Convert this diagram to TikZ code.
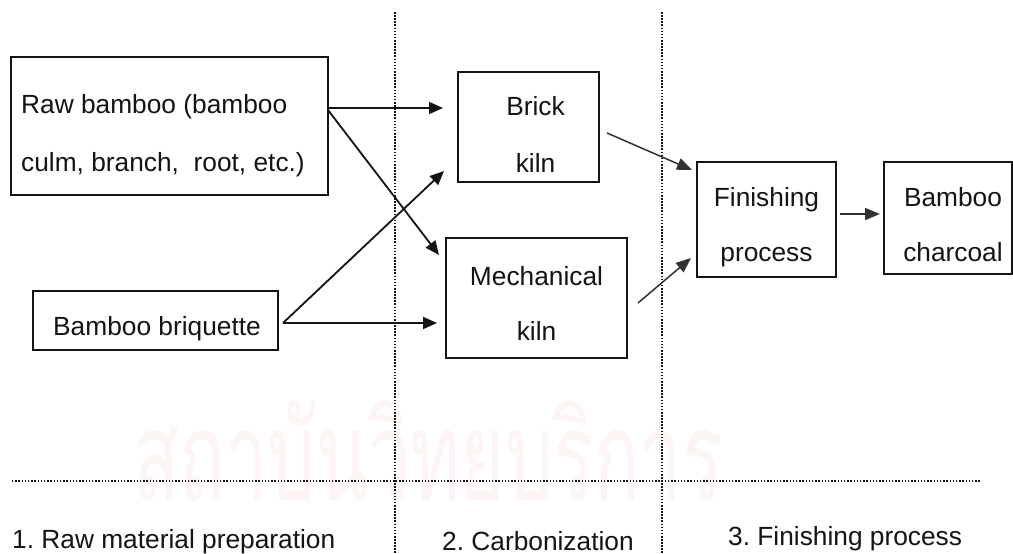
\documentclass[tikz,border=0pt]{standalone}
\usepackage{fontspec}
\setmainfont{Liberation Sans}
\newfontfamily\thaifont[Script=Thai]{Loma}
\usetikzlibrary{arrows.meta}
\definecolor{wm}{RGB}{253,244,244}
\definecolor{ink}{RGB}{20,20,20}
\definecolor{gr}{RGB}{50,50,50}
\frenchspacing
\begin{document}
\begin{tikzpicture}[x=1pt,y=-1pt,
  box/.style={draw=ink,line width=1.9pt,inner sep=0pt},
  lbl/.style={font=\fontsize{26.3}{30}\selectfont,text=ink,inner sep=0pt},
  arr/.style={draw=ink,line width=1.8pt,-{Triangle[length=14pt,width=12pt]}},
  garr/.style={draw=gr,line width=1.5pt,-{Triangle[length=15pt,width=12pt]}},
  vdot/.style={draw=ink,line width=2.2pt,dash pattern=on 1.6pt off 1.5pt},
  hdot/.style={draw=ink,line width=1.4pt,dash pattern=on 1.4pt off 1.8pt}]
\useasboundingbox (0,0) rectangle (1013,554);
\fill[white] (0,0) rectangle (1013,554);
% faint watermark
\node[anchor=base west,inner sep=0pt,text=wm] (wmark) at (133,500)
  {\raisebox{0pt}[\height][0pt]{\resizebox{590pt}{100pt}{\thaifont\fontsize{130}{130}\selectfont สถาบันวิทยบริการ}}};
% dotted separators
\coordinate (v1t) at (395,12); \coordinate (v1b) at (395,554);
\coordinate (v2t) at (662,12); \coordinate (v2b) at (662,554);
\coordinate (hl) at (12,481); \coordinate (hr) at (980,481);
\draw[hdot] (hl) -- (hr);
\draw[vdot] (v1t) -- (v1b);
\draw[vdot] (v2t) -- (v2b);
% boxes
\node[box,minimum width=317pt,minimum height=138pt] (raw) at (169.5,126) {};
\node[box,minimum width=141pt,minimum height=110pt] (brick) at (528.5,127) {};
\node[box,minimum width=181pt,minimum height=120pt] (mech) at (536.5,298) {};
\node[box,minimum width=245pt,minimum height=59pt] (briq) at (155.5,320.5) {};
\node[box,minimum width=139pt,minimum height=115pt] (fin) at (766.5,219.5) {};
\node[box,minimum width=128pt,minimum height=112pt] (char) at (948,218) {};
% texts
\node[lbl,anchor=base west] (raw1) at (21,113) {Raw bamboo (bamboo};
\node[lbl,anchor=base west] (raw2) at (21,171) {culm, branch,\ \ root, etc.)};
\node[lbl,anchor=base] (brick1) at (535.5,115) {Brick};
\node[lbl,anchor=base] (brick2) at (535.5,172) {kiln};
\node[lbl,anchor=base] (mech1) at (536.5,285) {Mechanical};
\node[lbl,anchor=base] (mech2) at (536.5,340) {kiln};
\node[lbl,anchor=base west] (briq1) at (53,335) {Bamboo briquette};
\node[lbl,anchor=base] (fin1) at (766.5,206) {Finishing};
\node[lbl,anchor=base] (fin2) at (766.5,261) {process};
\node[lbl,anchor=base] (char1) at (953,206) {Bamboo};
\node[lbl,anchor=base] (char2) at (953,261) {charcoal};
\node[lbl,anchor=base west] (s1) at (12,548) {1. Raw material preparation};
\node[lbl,anchor=base west] (s2) at (442,550) {2. Carbonization};
\node[lbl,anchor=base west] (s3) at (728,545) {3. Finishing process};
% connector end points
\coordinate (rawout) at (328,108);
\coordinate (rawout2) at (328,110);
\coordinate (briqout) at (283,323);
\coordinate (brickin1) at (443,108);
\coordinate (brickin2) at (444,171);
\coordinate (mechin1) at (439,255);
\coordinate (mechin2) at (437,323);
\coordinate (brickout) at (607,133);
\coordinate (mechout) at (638,303);
\coordinate (finin1) at (692,170);
\coordinate (finin2) at (691,258);
\coordinate (finout) at (840,214);
\coordinate (charin) at (880,214);
% connectors
\draw[arr] (rawout) -- (brickin1);
\draw[arr] (rawout2) -- (mechin1);
\draw[arr] (briqout) -- (brickin2);
\draw[arr] (briqout) -- (mechin2);
\draw[garr] (brickout) -- (finin1);
\draw[garr] (mechout) -- (finin2);
\draw[garr] (finout) -- (charin);
\end{tikzpicture}
\end{document}
